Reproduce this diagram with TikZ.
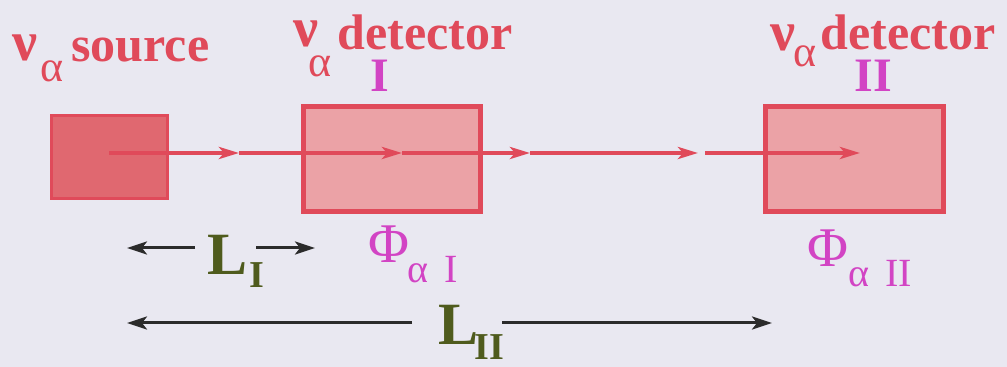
\documentclass[tikz,border=0pt]{standalone}
\usepackage{fontspec}
\setmainfont{Liberation Serif}
\usetikzlibrary{arrows.meta}
\definecolor{paperbg}{HTML}{E9E8F1}
\definecolor{beamred}{HTML}{E04A5A}
\definecolor{srcfill}{HTML}{E06870}
\definecolor{detfill}{HTML}{EBA2A6}
\definecolor{fluxmag}{HTML}{D244C4}
\definecolor{lenolive}{HTML}{4F5B1D}
\definecolor{dimdark}{HTML}{2B2B2B}

\begin{document}
\begin{tikzpicture}[x=0.5pt,y=-0.5pt,
  box/.style={draw=beamred,line width=2.5pt,inner sep=0pt,outer sep=0pt},
  beam/.style={beamred,line width=1.9pt,-{Stealth[length=10pt,width=6pt,inset=2.5pt]}},
  dimline/.style={dimdark,line width=1.5pt,-{Stealth[length=10pt,width=6.5pt,inset=2.5pt]}},
  wordlbl/.style={text=beamred,inner sep=0pt,anchor=base west,font=\fontsize{25}{30}\selectfont\bfseries},
  nulbl/.style={text=beamred,inner sep=0pt,anchor=base west,font=\fontsize{28}{30}\selectfont\bfseries},
  alphalbl/.style={text=beamred,inner sep=0pt,anchor=base west,font=\fontsize{22}{26}\selectfont},
  numlbl/.style={text=fluxmag,inner sep=0pt,anchor=base,font=\fontsize{24}{28}\selectfont\bfseries},
  philbl/.style={text=fluxmag,inner sep=0pt,anchor=base west,font=\fontsize{28}{30}\selectfont},
  phisub/.style={text=fluxmag,inner sep=0pt,anchor=base west,font=\fontsize{20}{24}\selectfont},
  lenlbl/.style={text=lenolive,inner sep=0pt,anchor=base west,font=\fontsize{30}{34}\selectfont\bfseries},
  lensub/.style={text=lenolive,inner sep=0pt,anchor=base west,font=\fontsize{19}{22}\selectfont\bfseries}]
  \fill[paperbg] (0,0) rectangle (1007,367);
  \useasboundingbox (0,0) rectangle (1007,367);

  % source and the two detectors
  \node[box,line width=1.5pt,fill=srcfill,minimum width=58pt,minimum height=41.5pt] (src) at (109,157.5) {};
  \node[box,fill=detfill,minimum width=88.5pt,minimum height=52.5pt] (detI) at (391.5,159.5) {};
  \node[box,fill=detfill,minimum width=89pt,minimum height=52.5pt] (detII) at (854,159.5) {};

  % labels above the boxes
  \foreach \n/\nx/\ny/\ax/\ay/\wx/\wy/\w in {
    src/12/61/40/82/71/62/source,
    detI/293/47/308/77/337/50/detector,
    detII/770/51/793/67/820/50/detector
  } {
    \node[nulbl] (\n nu) at (\nx,\ny) {ν};
    \node[alphalbl] (\n al) at (\ax,\ay) {α};
    \node[wordlbl] (\n word) at (\wx,\wy) {\w};
  }
  \node[numlbl] (detInum) at (380,92) {I};
  \node[numlbl] (detIInum) at (873,92) {II};

  % neutrino beam
  \coordinate (b1) at (239,153);
  \coordinate (b2) at (402,153);
  \coordinate (b3) at (530,153);
  \coordinate (b4) at (698,153);
  \coordinate (b5) at (705,153);
  \coordinate (b6) at (860,153);
  \draw[beam] (b1 -| src.center) -- (b1);
  \draw[beam] (b1) -- (b2);
  \draw[beam] (b2) -- (b3);
  \draw[beam] (b3) -- (b4);
  \draw[beam] (b5) -- (b6);

  % fluxes
  \node[philbl] (phiI) at (368,263) {Φ};
  \node[phisub] (phiIsub) at (407,283) {α\hspace{8pt}I};
  \node[philbl] (phiII) at (807,267) {Φ};
  \node[phisub] (phiIIsub) at (848,287) {α\hspace{8pt}II};

  % baselines
  \node[lenlbl] (LI) at (207,275) {L};
  \node[lensub] (LIsub) at (249,288) {I};
  \node[lenlbl] (LII) at (438,345) {L};
  \node[lensub] (LIIsub) at (474,360) {II};
  \coordinate (LIa) at (195,248);
  \coordinate (LIl) at (127,248);
  \coordinate (LIb) at (256,248);
  \coordinate (LIr) at (315,248);
  \coordinate (LIIa) at (412,323);
  \coordinate (LIIl) at (127,323);
  \coordinate (LIIb) at (502,323);
  \coordinate (LIIr) at (772,323);
  \draw[dimline] (LIa) -- (LIl);
  \draw[dimline] (LIb) -- (LIr);
  \draw[dimline] (LIIa) -- (LIIl);
  \draw[dimline] (LIIb) -- (LIIr);
\end{tikzpicture}
\end{document}
